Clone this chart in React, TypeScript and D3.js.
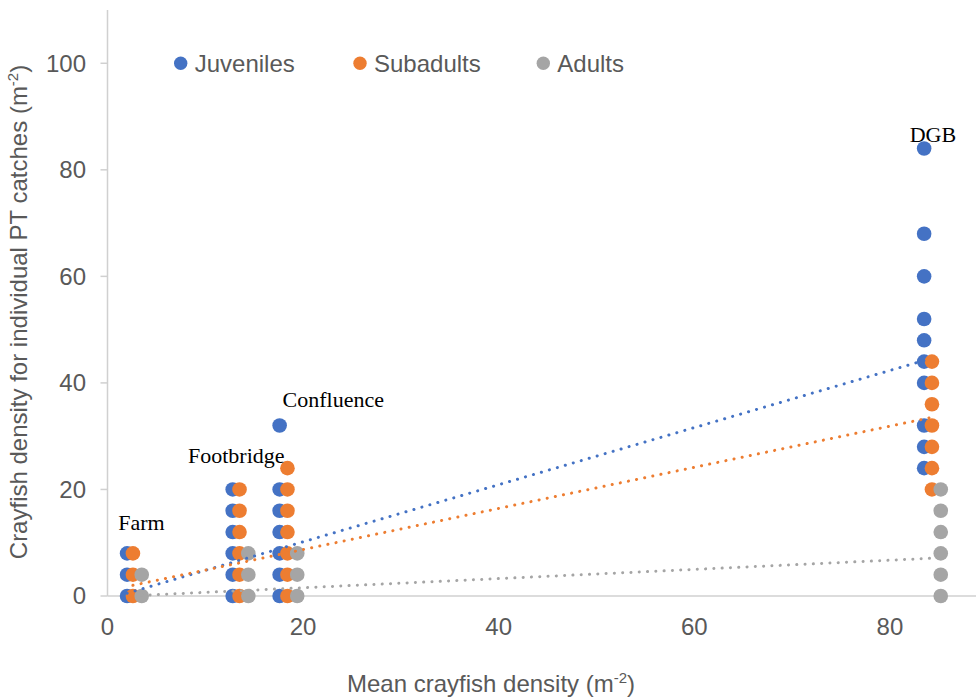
import React from "react";
import * as d3 from "d3";

const W = 976;
const H = 697;

const seriesNames = ["Juveniles", "Subadults", "Adults"];
const seriesColors = ["#4472C4", "#ED7D31", "#A5A5A5"];

const sites = ["Farm", "Footbridge", "Confluence", "DGB"];
const juvenileX = [2.0, 12.8, 17.6, 83.5];
const subadultX = [2.6, 13.5, 18.4, 84.3];
const adultX = [3.5, 14.4, 19.4, 85.2];

const juvenileY = [
  [0, 4, 8],
  [0, 4, 8, 12, 16, 20],
  [0, 4, 8, 12, 16, 20, 32],
  [24, 28, 32, 40, 44, 48, 52, 60, 68, 84],
];
const subadultY = [
  [0, 4, 8],
  [0, 4, 8, 12, 16, 20],
  [0, 4, 8, 12, 16, 20, 24],
  [20, 24, 28, 32, 36, 40, 44],
];
const adultY = [
  [0, 4],
  [0, 4, 8],
  [0, 4, 8],
  [0, 4, 8, 12, 16, 20],
];

// linear trendlines: [slope, intercept]
const trendSlope = [0.536, 0.386, 0.0862];
const trendIntercept = [-0.55, 1.0, -0.18];

const xTicks = [0, 20, 40, 60, 80];
const yTicks = [0, 20, 40, 60, 80, 100];

// site label anchors in data units
const siteLabelX = [1.1, 18.1, 17.9, 84.4];
const siteLabelY = [12.4, 24.9, 35.4, 85.2];
const siteLabelAnchor = ["start", "end", "start", "middle"];

export default function App() {
  const x = d3.scaleLinear().domain([0, 90]).range([107.5, 107.5 + 90 * 9.78]);
  const y = d3.scaleLinear().domain([0, 110]).range([596, 10]);

  const xs = [juvenileX, subadultX, adultX];
  const ys = [juvenileY, subadultY, adultY];

  const points = xs.map((sx, si) =>
    sx.flatMap((xv, k) => ys[si][k].map((yv) => ({ x: xv, y: yv })))
  );

  const line = d3
    .line<{ x: number; y: number }>()
    .x((d) => x(d.x))
    .y((d) => y(d.y));

  const trends = xs.map((sx, si) => {
    const x0 = d3.min(sx) as number;
    const x1 = d3.max(sx) as number;
    return [x0, x1].map((v) => ({ x: v, y: trendIntercept[si] + trendSlope[si] * v }));
  });

  const axisColor = "#D0D0D0";
  const textColor = "#595959";
  const sans = "'Liberation Sans', Arial, sans-serif";

  return (
    <svg
      width={W}
      height={H}
      style={{ position: "absolute", left: 0, top: 0, background: "#fff" }}
    >
      {/* axes */}
      <line x1={x(0)} x2={W} y1={y(0)} y2={y(0)} stroke={axisColor} strokeWidth={1.5} />
      <line x1={x(0)} x2={x(0)} y1={y(110)} y2={y(0)} stroke={axisColor} strokeWidth={1.5} />
      {yTicks.map((t) => (
        <g key={"yt" + t}>
          <line x1={x(0) - 7} x2={x(0)} y1={y(t)} y2={y(t)} stroke={axisColor} strokeWidth={1.5} />
          <text
            x={86}
            y={y(t)}
            dy="0.35em"
            textAnchor="end"
            fontFamily={sans}
            fontSize={24}
            fill={textColor}
          >
            {t}
          </text>
        </g>
      ))}
      {xTicks.map((t) => (
        <text
          key={"xt" + t}
          x={x(t)}
          y={635}
          textAnchor="middle"
          fontFamily={sans}
          fontSize={24}
          fill={textColor}
        >
          {t}
        </text>
      ))}

      {/* axis titles */}
      <text x={347} y={692} fontFamily={sans} fontSize={24} fill={textColor}>
        Mean crayfish density (m
        <tspan fontSize={15} dy={-9}>-2</tspan>
        <tspan dy={9}>)</tspan>
      </text>
      <text
        transform={`translate(27, 312) rotate(-90)`}
        textAnchor="middle"
        fontFamily={sans}
        fontSize={24}
        fill={textColor}
      >
        Crayfish density for individual PT catches (m
        <tspan fontSize={15} dy={-9}>-2</tspan>
        <tspan dy={9}>)</tspan>
      </text>

      {/* markers */}
      {points.map((pts, si) => (
        <g key={"s" + si}>
          {pts.map((p, i) => (
            <circle key={i} cx={x(p.x)} cy={y(p.y)} r={7.3} fill={seriesColors[si]} />
          ))}
        </g>
      ))}

      {/* trendlines */}
      {trends.map((tr, si) => (
        <path
          key={"tr" + si}
          d={line(tr) || ""}
          fill="none"
          stroke={seriesColors[si]}
          strokeWidth={3}
          strokeLinecap="round"
          strokeDasharray="0.1 8.2"
        />
      ))}

      {/* site labels */}
      {sites.map((s, i) => (
        <text
          key={s}
          x={x(siteLabelX[i])}
          y={y(siteLabelY[i])}
          textAnchor={siteLabelAnchor[i] as any}
          fontFamily="'Liberation Serif', 'Times New Roman', serif"
          fontSize={22}
          fill="#000"
        >
          {s}
        </text>
      ))}

      {/* legend */}
      {seriesNames.map((n, i) => {
        const cx = [180.7, 360, 543.3][i];
        return (
          <g key={n}>
            <circle cx={cx} cy={63.3} r={6.7} fill={seriesColors[i]} />
            <text x={cx + 14} y={63.3} dy="0.35em" fontFamily={sans} fontSize={24} fill={textColor}>
              {n}
            </text>
          </g>
        );
      })}
    </svg>
  );
}
